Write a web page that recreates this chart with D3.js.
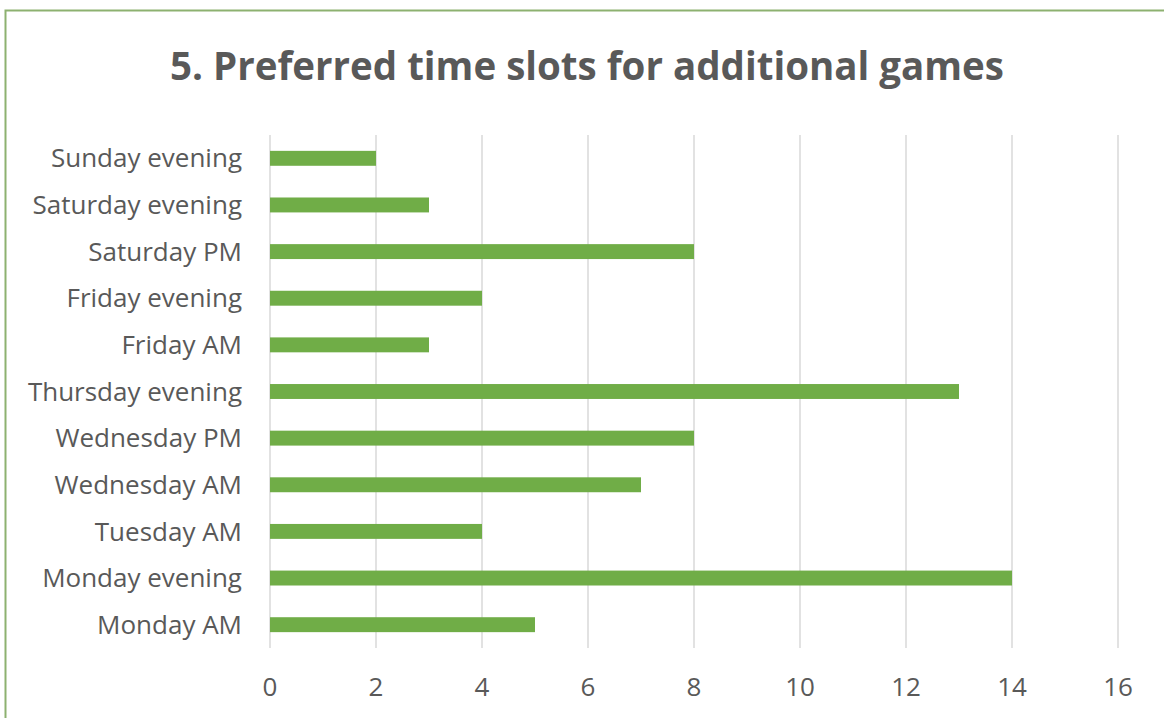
<!DOCTYPE html>
<html>
<head>
<meta charset="utf-8">
<script src="https://cdn.jsdelivr.net/npm/d3@7"></script>
<style>
  body { margin: 0; background: #fff; }
  text { font-family: "Open Sans", sans-serif; fill: #595959; }
</style>
</head>
<body>
<div id="container"></div>
<script>
// data, top to bottom as drawn
const slots = ["Sunday evening", "Saturday evening", "Saturday PM", "Friday evening", "Friday AM",
  "Thursday evening", "Wednesday PM", "Wednesday AM", "Tuesday AM", "Monday evening", "Monday AM"]
const counts = [2, 3, 8, 4, 3, 13, 8, 7, 4, 14, 5]
const xTicks = [0, 2, 4, 6, 8, 10, 12, 14, 16]
const title = "5. Preferred time slots for additional games"

const w = 1164
const h = 718
const m = { top: 135, bottom: 70, left: 270, right: 46 }

const svg = d3.select("#container")
  .append("svg")
  .attr("width", w)
  .attr("height", h)

// chart frame
svg.append("rect")
  .attr("x", 5.5).attr("y", 10.5)
  .attr("width", w + 20).attr("height", h + 20)
  .attr("fill", "none")
  .attr("stroke", "#8db170")
  .attr("stroke-width", 2)

const xScale = d3.scaleLinear()
  .domain([0, 16])
  .range([m.left, w - m.right])

const yScale = d3.scaleBand()
  .domain(slots)
  .range([m.top, h - m.bottom])
  .paddingInner(0.68)
  .paddingOuter(0.34)

// gridlines
svg.append("g")
  .selectAll("line")
  .data(xTicks)
  .join("line")
  .attr("x1", d => xScale(d)).attr("x2", d => xScale(d))
  .attr("y1", m.top).attr("y2", h - m.bottom)
  .attr("stroke", "#d9d9d9")
  .attr("stroke-width", 1.5)

// bars
svg.append("g")
  .selectAll("rect")
  .data(slots)
  .join("rect")
  .attr("x", xScale(0))
  .attr("y", d => yScale(d))
  .attr("width", (d, i) => xScale(counts[i]) - xScale(0))
  .attr("height", yScale.bandwidth())
  .attr("fill", "#70ad47")

// category labels
svg.append("g")
  .selectAll("text")
  .data(slots)
  .join("text")
  .attr("x", 242)
  .attr("y", d => yScale(d) + yScale.bandwidth() / 2)
  .attr("dy", "0.35em")
  .attr("text-anchor", "end")
  .style("font-size", "26px")
  .text(d => d)

// x tick labels
svg.append("g")
  .selectAll("text")
  .data(xTicks)
  .join("text")
  .attr("x", d => xScale(d))
  .attr("y", 687)
  .attr("dy", "0.35em")
  .attr("text-anchor", "middle")
  .style("font-size", "26px")
  .text(d => d)

// title
svg.append("text")
  .attr("x", 587)
  .attr("y", 80)
  .attr("text-anchor", "middle")
  .style("font-size", "38.5px")
  .style("font-weight", "bold")
  .text(title)
</script>
</body>
</html>
